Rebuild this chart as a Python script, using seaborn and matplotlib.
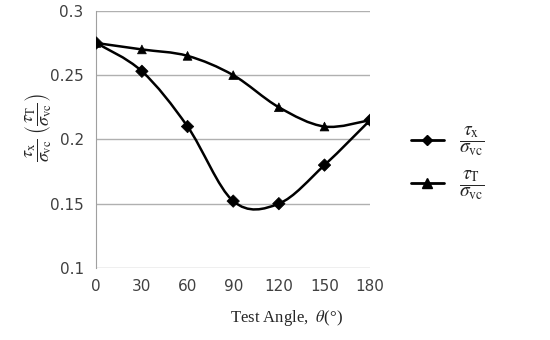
#!/usr/bin/env python3
import matplotlib
matplotlib.use("Agg")
import matplotlib.pyplot as plt
from matplotlib.path import Path
from matplotlib.patches import PathPatch
from matplotlib.lines import Line2D
import seaborn as sns
import pandas as pd

angles = [0, 30, 60, 90, 120, 150, 180]
tau_x = [0.275, 0.253, 0.210, 0.152, 0.150, 0.180, 0.215]
tau_t = [0.275, 0.270, 0.265, 0.250, 0.225, 0.210, 0.215]
labels = [r"$\dfrac{\tau_{\mathrm{x}}}{\sigma_{\mathrm{vc}}}$",
          r"$\dfrac{\tau_{\mathrm{T}}}{\sigma_{\mathrm{vc}}}$"]


def smooth_path(xs, ys):
    """Excel-like smoothed line: cubic Bezier segments with Catmull-Rom control points"""
    pts = list(zip(xs, ys))
    verts = [pts[0]]
    codes = [Path.MOVETO]
    n = len(pts)
    for i in range(n - 1):
        p0 = pts[i - 1] if i > 0 else pts[i]
        p1 = pts[i]
        p2 = pts[i + 1]
        p3 = pts[i + 2] if i + 2 < n else pts[i + 1]
        c1 = (p1[0] + (p2[0] - p0[0]) / 6, p1[1] + (p2[1] - p0[1]) / 6)
        c2 = (p2[0] - (p3[0] - p1[0]) / 6, p2[1] - (p3[1] - p1[1]) / 6)
        verts += [c1, c2, p2]
        codes += [Path.CURVE4] * 3
    return Path(verts, codes)


sns.set_style("white")
plt.rcParams["mathtext.fontset"] = "stix"

df = pd.DataFrame({"angle": angles * 2,
                   "val": tau_x + tau_t,
                   "serie": [labels[0]] * len(angles) + [labels[1]] * len(angles)})

fig = plt.figure(figsize=(5.5, 3.4), dpi=100)
ax = fig.add_axes([0.175, 0.212, 0.498, 0.756])

for ys in (tau_x, tau_t):
    ax.add_patch(PathPatch(smooth_path(angles, ys), fill=False, lw=1.8, color="black", zorder=3))

sns.scatterplot(data=df, x="angle", y="val", style="serie", markers={labels[0]: "D", labels[1]: "^"},
                color="black", s=40, edgecolor="black", legend=False, zorder=4, ax=ax)

ax.set_xlim(0, 180)
ax.set_ylim(0.1, 0.3)
ax.set_xticks(angles)
ax.set_yticks([0.1, 0.15, 0.2, 0.25, 0.3])
ax.set_yticklabels(["0.1", "0.15", "0.2", "0.25", "0.3"])
ax.yaxis.grid(True, color="#b0b0b0", lw=1)
ax.set_axisbelow(True)
for s in ("top", "right", "bottom"):
    ax.spines[s].set_visible(False)
ax.spines["left"].set_color("#a0a0a0")
ax.tick_params(axis="y", length=5, color="#a0a0a0", labelsize=11, labelcolor="#404040", pad=4)
ax.tick_params(axis="x", length=0, labelsize=11, labelcolor="#404040", pad=8)
ax.set_xlabel("")
ax.set_ylabel("")

fig.text(0.52, 0.065, r"Test Angle,  $\theta$(°)", ha="center", va="center",
         fontsize=12, family="Liberation Serif")
fig.text(0.07, 0.625, labels[0] + r"$\ \left(\dfrac{\tau_{\mathrm{T}}}{\sigma_{\mathrm{vc}}}\right)$",
         rotation=90, ha="center", va="center", fontsize=13)

handles = [Line2D([], [], color="black", lw=2, marker="D", markersize=5),
           Line2D([], [], color="black", lw=2, marker="^", markersize=7)]
fig.legend(handles, labels, loc="center left", bbox_to_anchor=(0.715, 0.52), frameon=False,
           fontsize=14, handlelength=1.7, handletextpad=0.8, labelspacing=0.5)

fig.savefig("out.png", dpi=100)
